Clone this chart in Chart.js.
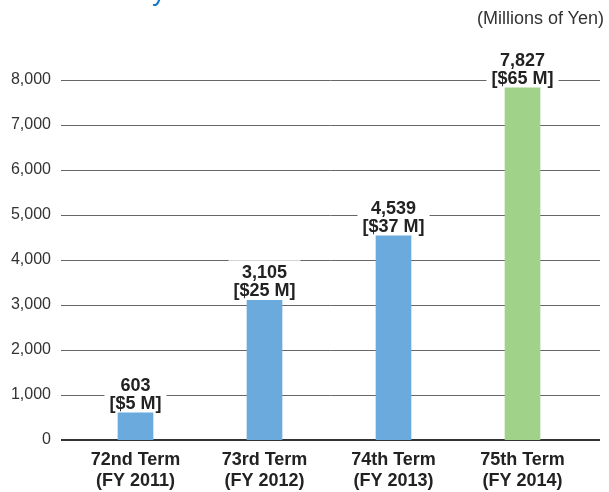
<!DOCTYPE html>
<html>
<head>
<meta charset="utf-8">
<script src="https://cdn.jsdelivr.net/npm/chart.js@4/dist/chart.umd.min.js"></script>
<style>
  html,body{margin:0;padding:0;background:#fff;}
  #wrap{position:relative;width:609px;height:492px;overflow:hidden;}
  #unit{position:absolute;right:5px;top:8px;font:18px "Liberation Sans",Arial,sans-serif;color:#333;}
  #cut{position:absolute;left:152px;top:-25px;font:28px "Liberation Sans",Arial,sans-serif;color:#1479c9;}
</style>
</head>
<body>
<div id="wrap">
  <div id="cut">y</div>
  <div id="unit">(Millions of Yen)</div>
  <canvas id="incomeChart" width="609" height="492"></canvas>
</div>
<script>
// data
const terms = [['72nd Term','(FY 2011)'],['73rd Term','(FY 2012)'],['74th Term','(FY 2013)'],['75th Term','(FY 2014)']];
const yenValues = [603, 3105, 4539, 7827];
const usdValues = [5, 25, 37, 65];
const barColors = ['#6aaadc','#6aaadc','#6aaadc','#a0d28a'];
const yTicks = [0,1000,2000,3000,4000,5000,6000,7000,8000];

const font = '"Liberation Sans", Arial, sans-serif';

// grid lines drawn wider than the category area
const gridPlugin = {
  id:'gridLines',
  beforeDatasetsDraw(chart){
    const ctx = chart.ctx, y = chart.scales.y;
    ctx.save();
    yTicks.forEach(v=>{
      const py = Math.round(y.getPixelForValue(v));
      ctx.beginPath();
      if(v===0){ ctx.lineWidth=2; ctx.strokeStyle='#333'; ctx.moveTo(61,py); ctx.lineTo(600,py); }
      else { ctx.lineWidth=1; ctx.strokeStyle='#666'; ctx.moveTo(61,py+0.5); ctx.lineTo(600,py+0.5); }
      ctx.stroke();
    });
    ctx.restore();
  }
};

// value labels with white box
const labelPlugin = {
  id:'barLabels',
  beforeDatasetsDraw(chart){
    const ctx = chart.ctx;
    const meta = chart.getDatasetMeta(0);
    ctx.save();
    ctx.font = 'bold 18px ' + font;
    meta.data.forEach((bar,i)=>{
      const l1 = yenValues[i].toLocaleString('en-US');
      const l2 = '[$' + usdValues[i] + ' M]';
      const w = Math.max(ctx.measureText(l1).width, ctx.measureText(l2).width) + 10;
      ctx.fillStyle = '#fff';
      ctx.fillRect(bar.x - w/2, bar.y - 40, w, 40);
    });
    ctx.restore();
  },
  afterDatasetsDraw(chart){
    const ctx = chart.ctx;
    const meta = chart.getDatasetMeta(0);
    ctx.save();
    ctx.font = 'bold 18px ' + font;
    ctx.fillStyle = '#222';
    ctx.textAlign = 'center';
    ctx.textBaseline = 'middle';
    meta.data.forEach((bar,i)=>{
      ctx.fillText(yenValues[i].toLocaleString('en-US'), bar.x, bar.y - 27);
      ctx.fillText('[$' + usdValues[i] + ' M]', bar.x, bar.y - 9);
    });
    ctx.restore();
  }
};

new Chart(document.getElementById('incomeChart'),{
  type:'bar',
  data:{
    labels:terms,
    datasets:[{data:yenValues, backgroundColor:barColors, barThickness:35}]
  },
  options:{
    responsive:false,
    animation:false,
    layout:{padding:{top:80,right:22,left:0,bottom:0}},
    plugins:{legend:{display:false},tooltip:{enabled:false}},
    scales:{
      x:{
        grid:{display:false,drawTicks:false},
        border:{display:false},
        ticks:{color:'#222',padding:9,font:{family:font,size:18,weight:'bold',lineHeight:1.2}},
        afterFit(s){ s.height = 52; }
      },
      y:{
        min:0,max:8000,
        grid:{display:false,drawTicks:false},
        border:{display:false},
        ticks:{stepSize:1000,color:'#333',padding:20,font:{family:font,size:16},
          callback:v=>v.toLocaleString('en-US')},
        afterFit(s){ s.width = 71; }
      }
    }
  },
  plugins:[gridPlugin,labelPlugin]
});
</script>
</body>
</html>
